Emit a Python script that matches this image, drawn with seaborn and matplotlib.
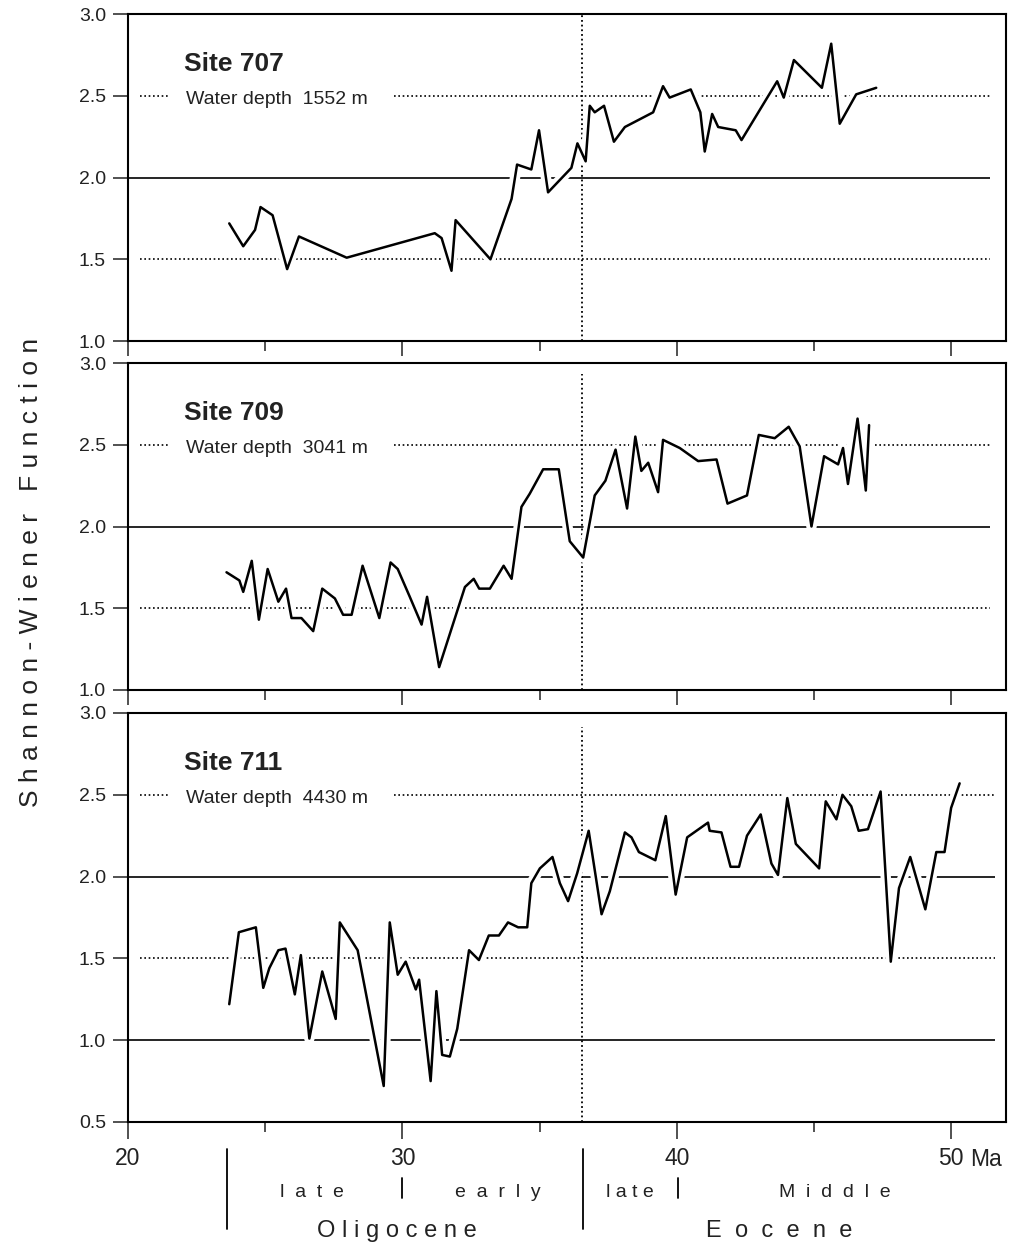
import matplotlib
matplotlib.use("Agg")
import matplotlib.pyplot as plt
import matplotlib.patheffects as pe
import seaborn as sns

sns.set_theme(style="ticks")
plt.rcParams["font.family"] = ["Liberation Sans", "DejaVu Sans"]

# Shannon-Wiener diversity vs age (Ma)
age_707 = [23.69, 24.20, 24.63, 24.83, 25.27, 25.80, 26.23, 27.97, 31.18, 31.43,
           31.79, 31.94, 33.21, 33.98, 34.18, 34.70, 34.98, 35.31, 36.16, 36.38,
           36.68, 36.83, 37.01, 37.35, 37.71, 38.11, 39.14, 39.50, 39.74, 40.51,
           40.86, 41.02, 41.29, 41.51, 42.15, 42.36, 43.66, 43.90, 44.27, 45.29,
           45.63, 45.94, 46.54, 47.27]
h_707 = [1.72, 1.58, 1.68, 1.82, 1.77, 1.44, 1.64, 1.51, 1.66, 1.63,
         1.43, 1.74, 1.50, 1.87, 2.08, 2.05, 2.29, 1.91, 2.06, 2.21,
         2.10, 2.44, 2.40, 2.44, 2.22, 2.31, 2.40, 2.56, 2.49, 2.54,
         2.40, 2.16, 2.39, 2.31, 2.29, 2.23, 2.59, 2.49, 2.72, 2.55,
         2.82, 2.33, 2.51, 2.55]

age_709 = [23.59, 24.06, 24.20, 24.51, 24.77, 25.09, 25.48, 25.76, 25.96, 26.32,
           26.75, 27.08, 27.54, 27.84, 28.15, 28.55, 29.16, 29.57, 29.83, 30.27,
           30.70, 30.90, 31.34, 32.28, 32.60, 32.80, 33.19, 33.69, 33.98, 34.34,
           34.64, 35.13, 35.70, 36.10, 36.59, 37.01, 37.40, 37.77, 38.19, 38.49,
           38.71, 38.96, 39.32, 39.50, 40.11, 40.78, 41.45, 41.85, 42.56, 42.99,
           43.57, 44.08, 44.48, 44.91, 45.37, 45.88, 46.06, 46.24, 46.59, 46.89,
           47.01]
h_709 = [1.72, 1.67, 1.60, 1.79, 1.43, 1.74, 1.54, 1.62, 1.44, 1.44,
         1.36, 1.62, 1.56, 1.46, 1.46, 1.76, 1.44, 1.78, 1.74, 1.57,
         1.40, 1.57, 1.14, 1.63, 1.68, 1.62, 1.62, 1.76, 1.68, 2.12,
         2.20, 2.35, 2.35, 1.91, 1.81, 2.19, 2.28, 2.47, 2.11, 2.55,
         2.34, 2.39, 2.21, 2.53, 2.48, 2.40, 2.41, 2.14, 2.19, 2.56,
         2.54, 2.61, 2.49, 2.00, 2.43, 2.38, 2.48, 2.26, 2.66, 2.22,
         2.62]

age_711 = [23.69, 24.04, 24.66, 24.93, 25.15, 25.48, 25.74, 26.08, 26.30, 26.61,
           27.08, 27.57, 27.72, 28.37, 29.32, 29.54, 29.83, 30.12, 30.49, 30.61,
           31.03, 31.24, 31.45, 31.73, 32.00, 32.43, 32.79, 33.15, 33.52, 33.85,
           34.22, 34.55, 34.70, 35.01, 35.47, 35.74, 36.04, 36.37, 36.79, 37.26,
           37.56, 38.11, 38.35, 38.62, 39.22, 39.60, 39.96, 40.38, 41.14, 41.20,
           41.63, 41.96, 42.27, 42.56, 43.06, 43.45, 43.69, 44.03, 44.34, 45.19,
           45.43, 45.82, 46.04, 46.36, 46.63, 46.97, 47.43, 47.80, 48.10, 48.51,
           49.06, 49.46, 49.76, 50.00, 50.31]
h_711 = [1.22, 1.66, 1.69, 1.32, 1.44, 1.55, 1.56, 1.28, 1.52, 1.01,
         1.42, 1.13, 1.72, 1.55, 0.72, 1.72, 1.40, 1.48, 1.31, 1.37,
         0.75, 1.30, 0.91, 0.90, 1.07, 1.55, 1.49, 1.64, 1.64, 1.72,
         1.69, 1.69, 1.96, 2.05, 2.12, 1.96, 1.85, 2.02, 2.28, 1.77,
         1.91, 2.27, 2.24, 2.15, 2.10, 2.37, 1.89, 2.24, 2.33, 2.28,
         2.27, 2.06, 2.06, 2.25, 2.38, 2.08, 2.01, 2.48, 2.20, 2.05,
         2.46, 2.35, 2.50, 2.43, 2.28, 2.29, 2.52, 1.48, 1.93, 2.12,
         1.80, 2.15, 2.15, 2.42, 2.57]

sites = ["Site 707", "Site 709", "Site 711"]
depths = ["Water depth  1552 m", "Water depth  3041 m", "Water depth  4430 m"]
ages = [age_707, age_709, age_711]
values = [h_707, h_709, h_711]

x_major = [20, 30, 40, 50]
x_minor = [25, 35, 45]
eo_boundary = 36.55

W, H = 1009, 1244
fig = plt.figure(figsize=(W / 100, H / 100), dpi=100)

# panel boxes in pixels: (top, bottom)
boxes = [(14.3, 341), (363, 690), (713, 1122)]
left_px, right_px = 128, 1006

dot = (0, (1, 1.6))
axes = []
for i, (top, bot) in enumerate(boxes):
    ax = fig.add_axes([left_px / W, 1 - bot / H, (right_px - left_px) / W, (bot - top) / H])
    axes.append(ax)
    last = i == 2
    ymin = 0.5 if last else 1.0
    ax.set_xlim(20, 52.0)
    ax.set_ylim(ymin, 3.0)
    rend = 51.6 if last else 51.4

    # reference lines
    ax.hlines(2.0, 20, rend, color="black", lw=1.2, zorder=1)
    if last:
        ax.hlines(1.0, 20, rend, color="black", lw=1.2, zorder=1)
    ax.hlines(1.5, 20.44, rend, color="black", lw=1.2, ls=dot, zorder=1)
    ax.hlines(2.5, 20.44, 21.45, color="black", lw=1.2, ls=dot, zorder=1)
    ax.hlines(2.5, 29.7, rend, color="black", lw=1.2, ls=dot, zorder=1)
    ax.axvline(eo_boundary, ymax=1.0 if i == 0 else 0.965, color="black",
               lw=1.3, ls=dot, zorder=1)

    sns.lineplot(x=ages[i], y=values[i], ax=ax, color="black", lw=1.8,
                 sort=False, estimator=None, zorder=2)
    ax.lines[-1].set_path_effects([pe.Stroke(linewidth=7.5, foreground="white"),
                                   pe.Normal()])

    ax.text(22.04, 2.65, sites[i], fontsize=19, fontweight="bold", ha="left",
            va="baseline", color="#222222")
    ax.text(22.11, 2.45, depths[i], fontsize=14, ha="left", va="baseline",
            color="#222222")

    ax.set_yticks([v / 2 for v in range(int(ymin * 2), 7)])
    ax.set_yticklabels([f"{v / 2:.1f}" for v in range(int(ymin * 2), 7)])
    ax.set_xticks(x_major)
    ax.set_xticks(x_minor, minor=True)
    ax.tick_params(axis="y", direction="out", length=10.8, width=1.1, pad=5,
                   labelsize=14, colors="#222222")
    ax.tick_params(axis="x", which="major", direction="out",
                   length=12 if last else 10.8, width=1.1, pad=6,
                   labelsize=16.5, colors="#222222")
    ax.tick_params(axis="x", which="minor", direction="out", length=7,
                   width=1.1, colors="#222222")
    if last:
        ax.set_xticklabels([str(v) for v in x_major])
    else:
        ax.set_xticklabels([])
    ax.set_xlabel("")
    ax.set_ylabel("")
    for s in ax.spines.values():
        s.set_visible(True)
        s.set_linewidth(1.5)
        s.set_color("black")

ax3 = axes[2]
tr = ax3.get_xaxis_transform()
ax3.text(50.68, -0.063, "Ma", transform=tr, fontsize=16.5, ha="left", va="top",
         color="#222222")

# stratigraphic annotation below the bottom panel
epoch_bounds = [23.6, 36.59]
for xb in epoch_bounds:
    ax3.plot([xb, xb], [-0.066, -0.262], transform=tr, color="black", lw=1.3,
             clip_on=False)
sub_bounds = [30.0, 40.05]
for xb in sub_bounds:
    ax3.plot([xb, xb], [-0.137, -0.186], transform=tr, color="black", lw=1.3,
             clip_on=False)

sub_labels = [("l  a  t  e", 26.69), ("e  a  r  l  y", 33.48),
              ("l a t e", 38.29), ("M  i  d  d  l  e", 45.75)]
for txt, xc in sub_labels:
    ax3.text(xc, -0.184, txt, transform=tr, fontsize=14, ha="center",
             va="baseline", color="#222222")
epoch_labels = [("O l i g o c e n e", 29.79), ("E  o  c  e  n  e", 43.72)]
for txt, xc in epoch_labels:
    ax3.text(xc, -0.280, txt, transform=tr, fontsize=17, ha="center",
             va="baseline", color="#222222")

fig.text(31 / W, 1 - 572 / H, "S h a n n o n - W i e n e r   F u n c t i o n",
         rotation=90, fontsize=19, ha="center", va="center", color="#222222")

fig.savefig("out.png", dpi=100, facecolor="white")
